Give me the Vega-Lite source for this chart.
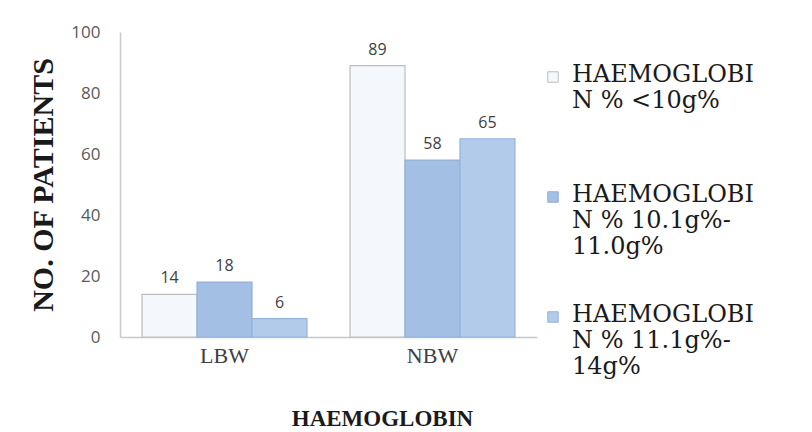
{
  "$schema": "https://vega.github.io/schema/vega-lite/v6.json",
  "width": 417,
  "height": 305,
  "autosize": {"type": "none"},
  "padding": {"left": 120, "top": 32, "right": 275, "bottom": 95},
  "background": "white",
  "config": {
    "view": {"stroke": null},
    "legend": {
      "labelFont": "DejaVu Serif",
      "labelFontSize": 24,
      "labelFontWeight": "normal",
      "labelColor": "#1a1a1a",
      "labelLimit": 0,
      "labelBaseline": "top",
      "labelOffset": 7,
      "labelLineHeight": 32,
      "rowPadding": 44,
      "symbolType": "square",
      "symbolSize": 110,
      "symbolStrokeWidth": 1
    }
  },
  "data": {
    "values": [
      {"weight": "LBW", "grp": "HAEMOGLOBIN % <10g%", "order": 1, "patients": 14},
      {"weight": "LBW", "grp": "HAEMOGLOBIN % 10.1g%-11.0g%", "order": 2, "patients": 18},
      {"weight": "LBW", "grp": "HAEMOGLOBIN % 11.1g%-14g%", "order": 3, "patients": 6},
      {"weight": "NBW", "grp": "HAEMOGLOBIN % <10g%", "order": 1, "patients": 89},
      {"weight": "NBW", "grp": "HAEMOGLOBIN % 10.1g%-11.0g%", "order": 2, "patients": 58},
      {"weight": "NBW", "grp": "HAEMOGLOBIN % 11.1g%-14g%", "order": 3, "patients": 65}
    ]
  },
  "encoding": {
    "x": {
      "field": "weight",
      "type": "nominal",
      "scale": {"paddingInner": 0.207, "paddingOuter": 0.106},
      "axis": {
        "title": "HAEMOGLOBIN",
        "titleFont": "Liberation Serif",
        "titleFontSize": 23,
        "titleFontWeight": "bold",
        "titleColor": "#1a1a1a",
        "titleX": 262,
        "titleY": 81,
        "titleBaseline": "middle",
        "labelAngle": 0,
        "labelFont": "Liberation Serif",
        "labelFontSize": 22,
        "labelColor": "#404040",
        "labelPadding": 18,
        "labelBaseline": "middle",
        "ticks": false,
        "domainColor": "#c8c8c8",
        "domainWidth": 1.5
      }
    },
    "xOffset": {"field": "grp", "type": "nominal", "sort": {"field": "order"}, "scale": {"paddingInner": 0}},
    "y": {
      "field": "patients",
      "type": "quantitative",
      "scale": {"domain": [0, 100]},
      "axis": {
        "title": "NO. OF PATIENTS",
        "titleFont": "Liberation Serif",
        "titleFontSize": 30,
        "titleFontWeight": "bold",
        "titleColor": "#1a1a1a",
        "titlePadding": 12,
        "values": [0, 20, 40, 60, 80, 100],
        "labelFont": "Open Sans",
        "labelFontSize": 17,
        "labelColor": "#595959",
        "labelPadding": 20,
        "ticks": false,
        "grid": false,
        "domainColor": "#c8c8c8",
        "domainWidth": 1.5
      }
    }
  },
  "layer": [
    {
      "mark": {"type": "bar", "strokeWidth": 1.2},
      "encoding": {
        "color": {
          "field": "grp",
          "type": "nominal",
          "scale": {
            "domain": ["HAEMOGLOBIN % <10g%", "HAEMOGLOBIN % 10.1g%-11.0g%", "HAEMOGLOBIN % 11.1g%-14g%"],
            "range": ["#f4f7fb", "#a3c0e4", "#b3cbea"]
          },
          "legend": {
            "orient": "none",
            "legendX": 421,
            "legendY": 33,
            "title": null,
            "labelExpr": "datum.label == 'HAEMOGLOBIN % <10g%' ? ['HAEMOGLOBI', 'N % <10g%', ' '] : datum.label == 'HAEMOGLOBIN % 10.1g%-11.0g%' ? ['HAEMOGLOBI', 'N % 10.1g%-', '11.0g%'] : ['HAEMOGLOBI', 'N % 11.1g%-', '14g%']",
            "encode": {"labels": {"update": {"dy": {"value": -14}, "font": {"value": "DejaVu Serif"}}}}
          }
        },
        "stroke": {
          "field": "grp",
          "type": "nominal",
          "scale": {
            "domain": ["HAEMOGLOBIN % <10g%", "HAEMOGLOBIN % 10.1g%-11.0g%", "HAEMOGLOBIN % 11.1g%-14g%"],
            "range": ["#bdbdbd", "#8fb0da", "#93b3dc"]
          }
        }
      }
    },
    {
      "mark": {"type": "text", "baseline": "bottom", "dy": -8, "font": "Open Sans", "fontSize": 16, "color": "#404040"},
      "encoding": {"text": {"field": "patients", "type": "quantitative"}}
    }
  ]
}
